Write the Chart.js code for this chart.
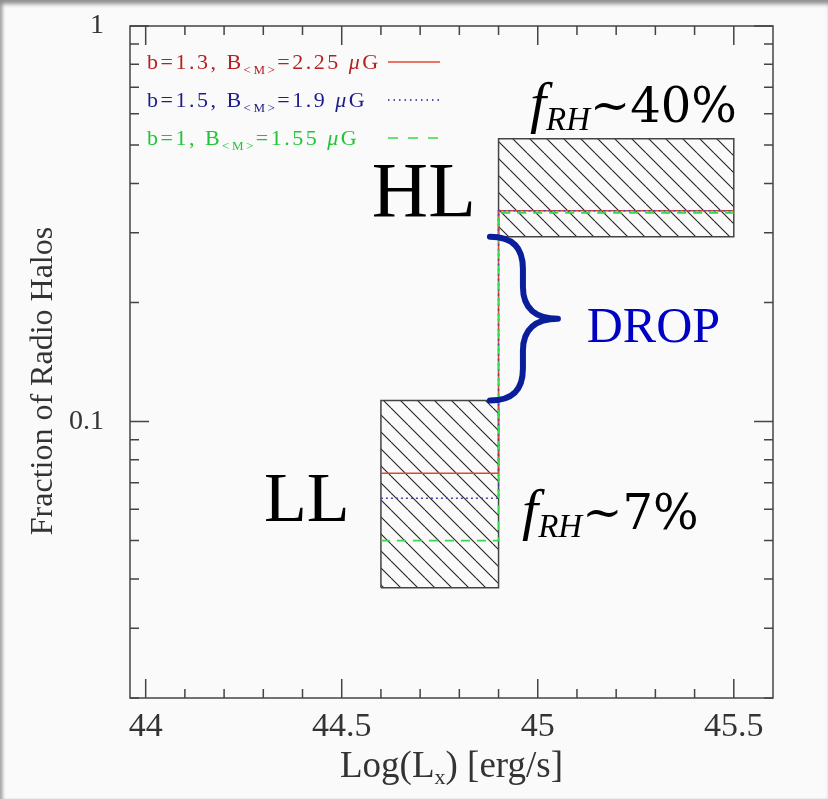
<!DOCTYPE html>
<html>
<head>
<meta charset="utf-8">
<script src="https://cdn.jsdelivr.net/npm/chart.js@4"></script>
<style>
html, body { margin: 0; padding: 0; }
body { width: 828px; height: 799px; background: #fafafa; overflow: hidden; position: relative; }
canvas { position: absolute; left: 0; top: 0; }
#edge { position: absolute; left: 0; top: 0; width: 828px; height: 799px; pointer-events: none;
        box-shadow: inset 0 6px 4px -2px #8f8f8f, inset 4px 0 3px -1px #b0b0b0; }
</style>
</head>
<body>
<canvas id="myChart" width="828" height="799"></canvas>
<div id="edge"></div>
<script>
// luminosity bins in Log(Lx): LL = 44.6-44.9, HL = 44.9-45.5
var binEdges = [44.6, 44.9, 45.5];
// observed fraction of radio halos (hatched boxes), LL then HL
var obsLow = [0.038, 0.293];
var obsHigh = [0.113, 0.519];
// model expectations, LL then HL
var modelRed = [0.074, 0.341];
var modelBlue = [0.064, 0.341];
var modelGreen = [0.050, 0.337];
var legendB = ['1.3', '1.5', '1'];
var legendBM = ['2.25', '1.9', '1.55'];

// tick marks and their labels ('' = minor tick)
var xTicks = [44.0, 44.1, 44.2, 44.3, 44.4, 44.5, 44.6, 44.7, 44.8, 44.9, 45.0, 45.1, 45.2, 45.3, 45.4, 45.5];
var xTickLabels = ['44', '', '', '', '', '44.5', '', '', '', '', '45', '', '', '', '', '45.5'];
var yTicks = [0.02, 0.03, 0.04, 0.05, 0.06, 0.07, 0.08, 0.09, 0.1, 0.2, 0.3, 0.4, 0.5, 0.6, 0.7, 0.8, 0.9, 1];
var yTickLabels = ['', '', '', '', '', '', '', '', '0.1', '', '', '', '', '', '', '', '', '1'];

var RED = '#e0482e', BLUE = '#4848a8', GREEN = '#38d848';

function stepPoints(vals) {
    return [
        {x: binEdges[0], y: vals[0]}, {x: binEdges[1], y: vals[0]},
        {x: binEdges[1], y: vals[1]}, {x: binEdges[2], y: vals[1]}
    ];
}

// diagonal hatching
var hatchCanvas = document.createElement('canvas');
hatchCanvas.width = 17;
hatchCanvas.height = 17;
var hctx = hatchCanvas.getContext('2d');
hctx.strokeStyle = '#222';
hctx.lineWidth = 1.1;
[-17, 0, 17].forEach(function (x0) {
    hctx.beginPath();
    hctx.moveTo(x0, 0);
    hctx.lineTo(x0 + 17, 17);
    hctx.stroke();
});
var hatch = hctx.createPattern(hatchCanvas, 'repeat');

// first dataset is drawn on top
var datasets = [
    {data: stepPoints(modelGreen), borderColor: GREEN, borderWidth: 1.6, borderDash: [9, 7]},
    {data: stepPoints(modelBlue), borderColor: BLUE, borderWidth: 1.6, borderDash: [2, 3]},
    {data: stepPoints(modelRed), borderColor: RED, borderWidth: 1.6}
];
for (var i = 0; i < 2; i++) {
    var x0 = binEdges[i], x1 = binEdges[i + 1];
    datasets.push({
        data: [{x: x0, y: obsLow[i]}, {x: x0, y: obsHigh[i]}, {x: x1, y: obsHigh[i]}, {x: x1, y: obsLow[i]}, {x: x0, y: obsLow[i]}],
        borderColor: '#444', borderWidth: 1.5
    });
    datasets.push({
        data: [{x: x0, y: obsHigh[i]}, {x: x1, y: obsHigh[i]}],
        borderWidth: 0, borderColor: 'rgba(0,0,0,0)', backgroundColor: hatch,
        fill: {value: obsLow[i]}
    });
}

function drawSubText(ctx, x, y, parts) {
    parts.forEach(function (p) {
        ctx.font = p.font;
        ctx.fillText(p.text, x, y + (p.dy || 0));
        x += ctx.measureText(p.text).width;
    });
    return x;
}

var decorations = {
    id: 'decorations',
    afterDraw: function (chart) {
        var ctx = chart.ctx, a = chart.chartArea;
        var xs = chart.scales.x, ys = chart.scales.y;
        var X = function (v) { return xs.getPixelForValue(v); };
        var Y = function (v) { return ys.getPixelForValue(v); };
        ctx.save();

        // frame and inward ticks on all four sides
        ctx.strokeStyle = '#444';
        ctx.lineWidth = 1.5;
        ctx.strokeRect(a.left, a.top, a.right - a.left, a.bottom - a.top);
        ctx.beginPath();
        xTicks.forEach(function (v, k) {
            var p = X(v), len = xTickLabels[k] ? 19 : 9;
            ctx.moveTo(p, a.bottom); ctx.lineTo(p, a.bottom - len);
            ctx.moveTo(p, a.top); ctx.lineTo(p, a.top + len);
        });
        yTicks.forEach(function (v, k) {
            var p = Y(v), len = yTickLabels[k] ? 19 : 9;
            ctx.moveTo(a.left, p); ctx.lineTo(a.left + len, p);
            ctx.moveTo(a.right, p); ctx.lineTo(a.right - len, p);
        });
        ctx.stroke();

        // axis titles
        ctx.fillStyle = '#333';
        ctx.textBaseline = 'alphabetic';
        ctx.textAlign = 'left';
        ctx.font = '37px "Liberation Serif"';
        var t1 = 'Log(L', t2 = ') [erg/s]';
        var w = ctx.measureText(t1).width + ctx.measureText(t2).width;
        ctx.font = '22px "Liberation Serif"';
        w += ctx.measureText('x').width;
        drawSubText(ctx, (a.left + a.right) / 2 - w / 2, 777, [
            {text: t1, font: '37px "Liberation Serif"'},
            {text: 'x', font: '22px "Liberation Serif"', dy: 7},
            {text: t2, font: '37px "Liberation Serif"'}
        ]);
        ctx.save();
        ctx.translate(52, 381);
        ctx.rotate(-Math.PI / 2);
        ctx.textAlign = 'center';
        ctx.font = '32px "Liberation Serif"';
        ctx.fillText('Fraction of Radio Halos', 0, 0);
        ctx.restore();

        // legend
        var rows = [
            {color: '#b42222', line: RED, dash: []},
            {color: '#1c1c8c', line: '#1c1c8c', dash: [1.5, 4]},
            {color: '#22c436', line: GREEN, dash: [10, 10]}
        ];
        ctx.letterSpacing = '2.5px';
        rows.forEach(function (r, k) {
            var y = a.top + 43 + k * 38;
            ctx.fillStyle = r.color;
            drawSubText(ctx, a.left + 17, y, [
                {text: 'b=' + legendB[k] + ', B', font: '22px "Liberation Serif"'},
                {text: '<M>', font: '13px "Liberation Serif"', dy: 5},
                {text: '=' + legendBM[k] + ' ', font: '22px "Liberation Serif"'},
                {text: '\u03bc', font: 'italic 22px "Liberation Serif"'},
                {text: 'G', font: '22px "Liberation Serif"'}
            ]);
            ctx.strokeStyle = r.line;
            ctx.lineWidth = 1.5;
            ctx.setLineDash(r.dash);
            ctx.beginPath();
            ctx.moveTo(a.left + 258, y - 7);
            ctx.lineTo(a.left + 310, y - 7);
            ctx.stroke();
        });
        ctx.setLineDash([]);
        ctx.letterSpacing = '0px';

        // big bin labels
        ctx.fillStyle = '#000';
        ctx.textAlign = 'right';
        ctx.font = '78px "Liberation Serif"';
        ctx.fillText('HL', X(44.842), Y(0.33));
        ctx.font = '70px "Liberation Serif"';
        ctx.fillText('LL', X(44.52), Y(0.0559));

        // radio halo fractions
        ctx.textAlign = 'left';
        [[44.98, 0.572, '~40%'], [44.96, 0.0534, '~7%']].forEach(function (f) {
            drawSubText(ctx, X(f[0]), Y(f[1]), [
                {text: 'f', font: 'italic 58px "Liberation Serif"'},
                {text: 'RH', font: 'italic 33px "Liberation Serif"', dy: 8},
                {text: f[2], font: '48px "DejaVu Serif"'}
            ]);
        });

        // brace and DROP
        var bx = X(44.878), yT = Y(obsLow[1]), yB = Y(obsHigh[0]), yM = (yT + yB) / 2;
        ctx.strokeStyle = '#0a1e9c';
        ctx.lineWidth = 6;
        ctx.lineCap = 'round';
        ctx.lineJoin = 'round';
        ctx.beginPath();
        ctx.moveTo(bx, yT);
        ctx.bezierCurveTo(bx + 24, yT, bx + 33, yT + 12, bx + 33, yT + 32);
        ctx.lineTo(bx + 33, yM - 32);
        ctx.bezierCurveTo(bx + 33, yM - 10, bx + 46, yM, bx + 68, yM);
        ctx.bezierCurveTo(bx + 46, yM, bx + 33, yM + 10, bx + 33, yM + 32);
        ctx.lineTo(bx + 33, yB - 32);
        ctx.bezierCurveTo(bx + 33, yB - 12, bx + 24, yB, bx, yB);
        ctx.stroke();
        ctx.fillStyle = '#0000c4';
        ctx.font = '50px "Liberation Serif"';
        ctx.fillText('DROP', X(45.125), Y(0.159));

        ctx.restore();
    }
};

var ctx = document.getElementById('myChart').getContext('2d');
var chart = new Chart(ctx, {
    type: 'line',
    data: {datasets: datasets},
    options: {
        responsive: false,
        animation: false,
        devicePixelRatio: 1,
        layout: {padding: {top: 26, right: 55, left: 0, bottom: 0}},
        elements: {point: {radius: 0}, line: {tension: 0, fill: false}},
        plugins: {legend: {display: false}, tooltip: {enabled: false}},
        scales: {
            x: {
                type: 'linear',
                min: 43.96,
                max: 45.6,
                grid: {display: false},
                border: {display: false},
                afterBuildTicks: function (s) { s.ticks = xTicks.map(function (v) { return {value: v}; }); },
                afterFit: function (s) { s.height = 101; s.paddingLeft = 0; s.paddingRight = 0; },
                ticks: {
                    autoSkip: false, maxRotation: 0, padding: 1, color: '#333',
                    font: {family: 'Liberation Serif', size: 34},
                    callback: function (v, k) { return xTickLabels[k]; }
                }
            },
            y: {
                type: 'logarithmic',
                min: 0.02,
                max: 1,
                grid: {display: false},
                border: {display: false},
                afterBuildTicks: function (s) { s.ticks = yTicks.map(function (v) { return {value: v}; }); },
                afterFit: function (s) { s.width = 130; s.paddingTop = 0; s.paddingBottom = 0; },
                ticks: {
                    autoSkip: false, padding: 18, color: '#333',
                    font: {family: 'Liberation Serif', size: 28},
                    callback: function (v, k) { return yTickLabels[k]; }
                }
            }
        }
    },
    plugins: [decorations]
});
</script>
</body>
</html>
